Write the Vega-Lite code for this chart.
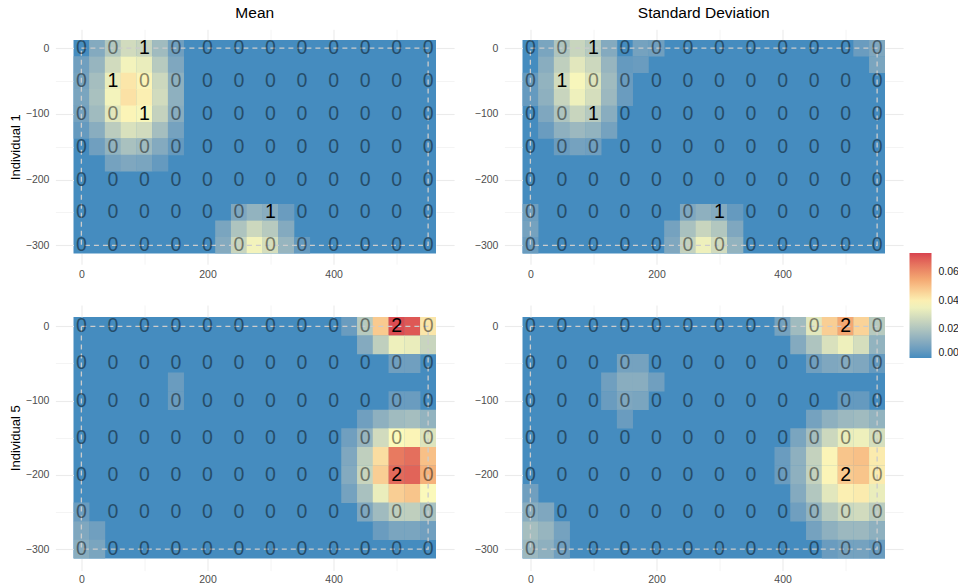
{
"$schema": "https://vega.github.io/schema/vega-lite/v6.json",
"background": "white",
"padding": {"left": 8.5, "top": 6, "right": 0, "bottom": 0},
"datasets": {
"frame": [{"x": 0, "x2": 550, "y": 0, "y2": -300}],
"counts": [
{"i":1,"x":0,"y":0,"n":0},{"i":1,"x":50,"y":0,"n":0},{"i":1,"x":100,"y":0,"n":1},{"i":1,"x":150,"y":0,"n":0},{"i":1,"x":200,"y":0,"n":0},{"i":1,"x":250,"y":0,"n":0},{"i":1,"x":300,"y":0,"n":0},{"i":1,"x":350,"y":0,"n":0},{"i":1,"x":400,"y":0,"n":0},{"i":1,"x":450,"y":0,"n":0},{"i":1,"x":500,"y":0,"n":0},{"i":1,"x":550,"y":0,"n":0},
{"i":1,"x":0,"y":-50,"n":0},{"i":1,"x":50,"y":-50,"n":1},{"i":1,"x":100,"y":-50,"n":0},{"i":1,"x":150,"y":-50,"n":0},{"i":1,"x":200,"y":-50,"n":0},{"i":1,"x":250,"y":-50,"n":0},{"i":1,"x":300,"y":-50,"n":0},{"i":1,"x":350,"y":-50,"n":0},{"i":1,"x":400,"y":-50,"n":0},{"i":1,"x":450,"y":-50,"n":0},{"i":1,"x":500,"y":-50,"n":0},{"i":1,"x":550,"y":-50,"n":0},
{"i":1,"x":0,"y":-100,"n":0},{"i":1,"x":50,"y":-100,"n":0},{"i":1,"x":100,"y":-100,"n":1},{"i":1,"x":150,"y":-100,"n":0},{"i":1,"x":200,"y":-100,"n":0},{"i":1,"x":250,"y":-100,"n":0},{"i":1,"x":300,"y":-100,"n":0},{"i":1,"x":350,"y":-100,"n":0},{"i":1,"x":400,"y":-100,"n":0},{"i":1,"x":450,"y":-100,"n":0},{"i":1,"x":500,"y":-100,"n":0},{"i":1,"x":550,"y":-100,"n":0},
{"i":1,"x":0,"y":-150,"n":0},{"i":1,"x":50,"y":-150,"n":0},{"i":1,"x":100,"y":-150,"n":0},{"i":1,"x":150,"y":-150,"n":0},{"i":1,"x":200,"y":-150,"n":0},{"i":1,"x":250,"y":-150,"n":0},{"i":1,"x":300,"y":-150,"n":0},{"i":1,"x":350,"y":-150,"n":0},{"i":1,"x":400,"y":-150,"n":0},{"i":1,"x":450,"y":-150,"n":0},{"i":1,"x":500,"y":-150,"n":0},{"i":1,"x":550,"y":-150,"n":0},
{"i":1,"x":0,"y":-200,"n":0},{"i":1,"x":50,"y":-200,"n":0},{"i":1,"x":100,"y":-200,"n":0},{"i":1,"x":150,"y":-200,"n":0},{"i":1,"x":200,"y":-200,"n":0},{"i":1,"x":250,"y":-200,"n":0},{"i":1,"x":300,"y":-200,"n":0},{"i":1,"x":350,"y":-200,"n":0},{"i":1,"x":400,"y":-200,"n":0},{"i":1,"x":450,"y":-200,"n":0},{"i":1,"x":500,"y":-200,"n":0},{"i":1,"x":550,"y":-200,"n":0},
{"i":1,"x":0,"y":-250,"n":0},{"i":1,"x":50,"y":-250,"n":0},{"i":1,"x":100,"y":-250,"n":0},{"i":1,"x":150,"y":-250,"n":0},{"i":1,"x":200,"y":-250,"n":0},{"i":1,"x":250,"y":-250,"n":0},{"i":1,"x":300,"y":-250,"n":1},{"i":1,"x":350,"y":-250,"n":0},{"i":1,"x":400,"y":-250,"n":0},{"i":1,"x":450,"y":-250,"n":0},{"i":1,"x":500,"y":-250,"n":0},{"i":1,"x":550,"y":-250,"n":0},
{"i":1,"x":0,"y":-300,"n":0},{"i":1,"x":50,"y":-300,"n":0},{"i":1,"x":100,"y":-300,"n":0},{"i":1,"x":150,"y":-300,"n":0},{"i":1,"x":200,"y":-300,"n":0},{"i":1,"x":250,"y":-300,"n":0},{"i":1,"x":300,"y":-300,"n":0},{"i":1,"x":350,"y":-300,"n":0},{"i":1,"x":400,"y":-300,"n":0},{"i":1,"x":450,"y":-300,"n":0},{"i":1,"x":500,"y":-300,"n":0},{"i":1,"x":550,"y":-300,"n":0},
{"i":5,"x":0,"y":0,"n":0},{"i":5,"x":50,"y":0,"n":0},{"i":5,"x":100,"y":0,"n":0},{"i":5,"x":150,"y":0,"n":0},{"i":5,"x":200,"y":0,"n":0},{"i":5,"x":250,"y":0,"n":0},{"i":5,"x":300,"y":0,"n":0},{"i":5,"x":350,"y":0,"n":0},{"i":5,"x":400,"y":0,"n":0},{"i":5,"x":450,"y":0,"n":0},{"i":5,"x":500,"y":0,"n":2},{"i":5,"x":550,"y":0,"n":0},
{"i":5,"x":0,"y":-50,"n":0},{"i":5,"x":50,"y":-50,"n":0},{"i":5,"x":100,"y":-50,"n":0},{"i":5,"x":150,"y":-50,"n":0},{"i":5,"x":200,"y":-50,"n":0},{"i":5,"x":250,"y":-50,"n":0},{"i":5,"x":300,"y":-50,"n":0},{"i":5,"x":350,"y":-50,"n":0},{"i":5,"x":400,"y":-50,"n":0},{"i":5,"x":450,"y":-50,"n":0},{"i":5,"x":500,"y":-50,"n":0},{"i":5,"x":550,"y":-50,"n":0},
{"i":5,"x":0,"y":-100,"n":0},{"i":5,"x":50,"y":-100,"n":0},{"i":5,"x":100,"y":-100,"n":0},{"i":5,"x":150,"y":-100,"n":0},{"i":5,"x":200,"y":-100,"n":0},{"i":5,"x":250,"y":-100,"n":0},{"i":5,"x":300,"y":-100,"n":0},{"i":5,"x":350,"y":-100,"n":0},{"i":5,"x":400,"y":-100,"n":0},{"i":5,"x":450,"y":-100,"n":0},{"i":5,"x":500,"y":-100,"n":0},{"i":5,"x":550,"y":-100,"n":0},
{"i":5,"x":0,"y":-150,"n":0},{"i":5,"x":50,"y":-150,"n":0},{"i":5,"x":100,"y":-150,"n":0},{"i":5,"x":150,"y":-150,"n":0},{"i":5,"x":200,"y":-150,"n":0},{"i":5,"x":250,"y":-150,"n":0},{"i":5,"x":300,"y":-150,"n":0},{"i":5,"x":350,"y":-150,"n":0},{"i":5,"x":400,"y":-150,"n":0},{"i":5,"x":450,"y":-150,"n":0},{"i":5,"x":500,"y":-150,"n":0},{"i":5,"x":550,"y":-150,"n":0},
{"i":5,"x":0,"y":-200,"n":0},{"i":5,"x":50,"y":-200,"n":0},{"i":5,"x":100,"y":-200,"n":0},{"i":5,"x":150,"y":-200,"n":0},{"i":5,"x":200,"y":-200,"n":0},{"i":5,"x":250,"y":-200,"n":0},{"i":5,"x":300,"y":-200,"n":0},{"i":5,"x":350,"y":-200,"n":0},{"i":5,"x":400,"y":-200,"n":0},{"i":5,"x":450,"y":-200,"n":0},{"i":5,"x":500,"y":-200,"n":2},{"i":5,"x":550,"y":-200,"n":0},
{"i":5,"x":0,"y":-250,"n":0},{"i":5,"x":50,"y":-250,"n":0},{"i":5,"x":100,"y":-250,"n":0},{"i":5,"x":150,"y":-250,"n":0},{"i":5,"x":200,"y":-250,"n":0},{"i":5,"x":250,"y":-250,"n":0},{"i":5,"x":300,"y":-250,"n":0},{"i":5,"x":350,"y":-250,"n":0},{"i":5,"x":400,"y":-250,"n":0},{"i":5,"x":450,"y":-250,"n":0},{"i":5,"x":500,"y":-250,"n":0},{"i":5,"x":550,"y":-250,"n":0},
{"i":5,"x":0,"y":-300,"n":0},{"i":5,"x":50,"y":-300,"n":0},{"i":5,"x":100,"y":-300,"n":0},{"i":5,"x":150,"y":-300,"n":0},{"i":5,"x":200,"y":-300,"n":0},{"i":5,"x":250,"y":-300,"n":0},{"i":5,"x":300,"y":-300,"n":0},{"i":5,"x":350,"y":-300,"n":0},{"i":5,"x":400,"y":-300,"n":0},{"i":5,"x":450,"y":-300,"n":0},{"i":5,"x":500,"y":-300,"n":0},{"i":5,"x":550,"y":-300,"n":0}
],
"cells": [
{"s":"Mean","i":1,"x":25,"y":0,"d":0.011},{"s":"Mean","i":1,"x":50,"y":0,"d":0.021},{"s":"Mean","i":1,"x":75,"y":0,"d":0.028},{"s":"Mean","i":1,"x":100,"y":0,"d":0.026},{"s":"Mean","i":1,"x":125,"y":0,"d":0.017},{"s":"Mean","i":1,"x":150,"y":0,"d":0.007},
{"s":"Mean","i":1,"x":0,"y":-25,"d":0.007},{"s":"Mean","i":1,"x":25,"y":-25,"d":0.015},{"s":"Mean","i":1,"x":50,"y":-25,"d":0.028},{"s":"Mean","i":1,"x":75,"y":-25,"d":0.036},{"s":"Mean","i":1,"x":100,"y":-25,"d":0.034},{"s":"Mean","i":1,"x":125,"y":-25,"d":0.022},{"s":"Mean","i":1,"x":150,"y":-25,"d":0.010},
{"s":"Mean","i":1,"x":0,"y":-50,"d":0.008},{"s":"Mean","i":1,"x":25,"y":-50,"d":0.018},{"s":"Mean","i":1,"x":50,"y":-50,"d":0.034},{"s":"Mean","i":1,"x":75,"y":-50,"d":0.042},{"s":"Mean","i":1,"x":100,"y":-50,"d":0.039},{"s":"Mean","i":1,"x":125,"y":-50,"d":0.027},{"s":"Mean","i":1,"x":150,"y":-50,"d":0.013},
{"s":"Mean","i":1,"x":0,"y":-75,"d":0.009},{"s":"Mean","i":1,"x":25,"y":-75,"d":0.019},{"s":"Mean","i":1,"x":50,"y":-75,"d":0.036},{"s":"Mean","i":1,"x":75,"y":-75,"d":0.043},{"s":"Mean","i":1,"x":100,"y":-75,"d":0.040},{"s":"Mean","i":1,"x":125,"y":-75,"d":0.028},{"s":"Mean","i":1,"x":150,"y":-75,"d":0.013},
{"s":"Mean","i":1,"x":0,"y":-100,"d":0.008},{"s":"Mean","i":1,"x":25,"y":-100,"d":0.017},{"s":"Mean","i":1,"x":50,"y":-100,"d":0.032},{"s":"Mean","i":1,"x":75,"y":-100,"d":0.039},{"s":"Mean","i":1,"x":100,"y":-100,"d":0.037},{"s":"Mean","i":1,"x":125,"y":-100,"d":0.025},{"s":"Mean","i":1,"x":150,"y":-100,"d":0.012},
{"s":"Mean","i":1,"x":0,"y":-125,"d":0.005},{"s":"Mean","i":1,"x":25,"y":-125,"d":0.012},{"s":"Mean","i":1,"x":50,"y":-125,"d":0.023},{"s":"Mean","i":1,"x":75,"y":-125,"d":0.030},{"s":"Mean","i":1,"x":100,"y":-125,"d":0.028},{"s":"Mean","i":1,"x":125,"y":-125,"d":0.018},{"s":"Mean","i":1,"x":150,"y":-125,"d":0.008},
{"s":"Mean","i":1,"x":25,"y":-150,"d":0.007},{"s":"Mean","i":1,"x":50,"y":-150,"d":0.014},{"s":"Mean","i":1,"x":75,"y":-150,"d":0.019},{"s":"Mean","i":1,"x":100,"y":-150,"d":0.017},{"s":"Mean","i":1,"x":125,"y":-150,"d":0.011},{"s":"Mean","i":1,"x":150,"y":-150,"d":0.005},
{"s":"Mean","i":1,"x":50,"y":-175,"d":0.008},{"s":"Mean","i":1,"x":75,"y":-175,"d":0.010},{"s":"Mean","i":1,"x":100,"y":-175,"d":0.009},{"s":"Mean","i":1,"x":125,"y":-175,"d":0.005},
{"s":"Mean","i":1,"x":250,"y":-250,"d":0.010},{"s":"Mean","i":1,"x":275,"y":-250,"d":0.014},{"s":"Mean","i":1,"x":300,"y":-250,"d":0.012},{"s":"Mean","i":1,"x":325,"y":-250,"d":0.006},
{"s":"Mean","i":1,"x":225,"y":-275,"d":0.009},{"s":"Mean","i":1,"x":250,"y":-275,"d":0.020},{"s":"Mean","i":1,"x":275,"y":-275,"d":0.027},{"s":"Mean","i":1,"x":300,"y":-275,"d":0.022},{"s":"Mean","i":1,"x":325,"y":-275,"d":0.011},
{"s":"Mean","i":1,"x":225,"y":-300,"d":0.011},{"s":"Mean","i":1,"x":250,"y":-300,"d":0.026},{"s":"Mean","i":1,"x":275,"y":-300,"d":0.036},{"s":"Mean","i":1,"x":300,"y":-300,"d":0.029},{"s":"Mean","i":1,"x":325,"y":-300,"d":0.015},{"s":"Mean","i":1,"x":350,"y":-300,"d":0.005},
{"s":"SD","i":1,"x":25,"y":0,"d":0.009},{"s":"SD","i":1,"x":50,"y":0,"d":0.020},{"s":"SD","i":1,"x":75,"y":0,"d":0.026},{"s":"SD","i":1,"x":100,"y":0,"d":0.022},{"s":"SD","i":1,"x":125,"y":0,"d":0.011},{"s":"SD","i":1,"x":175,"y":0,"d":0.008},{"s":"SD","i":1,"x":200,"y":0,"d":0.007},{"s":"SD","i":1,"x":525,"y":0,"d":0.006},{"s":"SD","i":1,"x":550,"y":0,"d":0.010},
{"s":"SD","i":1,"x":25,"y":-25,"d":0.012},{"s":"SD","i":1,"x":50,"y":-25,"d":0.024},{"s":"SD","i":1,"x":75,"y":-25,"d":0.032},{"s":"SD","i":1,"x":100,"y":-25,"d":0.027},{"s":"SD","i":1,"x":125,"y":-25,"d":0.015},{"s":"SD","i":1,"x":150,"y":-25,"d":0.005},{"s":"SD","i":1,"x":175,"y":-25,"d":0.006},{"s":"SD","i":1,"x":550,"y":-25,"d":0.009},
{"s":"SD","i":1,"x":0,"y":-50,"d":0.005},{"s":"SD","i":1,"x":25,"y":-50,"d":0.014},{"s":"SD","i":1,"x":50,"y":-50,"d":0.028},{"s":"SD","i":1,"x":75,"y":-50,"d":0.037},{"s":"SD","i":1,"x":100,"y":-50,"d":0.031},{"s":"SD","i":1,"x":125,"y":-50,"d":0.017},{"s":"SD","i":1,"x":150,"y":-50,"d":0.006},
{"s":"SD","i":1,"x":0,"y":-75,"d":0.005},{"s":"SD","i":1,"x":25,"y":-75,"d":0.013},{"s":"SD","i":1,"x":50,"y":-75,"d":0.026},{"s":"SD","i":1,"x":75,"y":-75,"d":0.035},{"s":"SD","i":1,"x":100,"y":-75,"d":0.029},{"s":"SD","i":1,"x":125,"y":-75,"d":0.016},{"s":"SD","i":1,"x":150,"y":-75,"d":0.006},
{"s":"SD","i":1,"x":25,"y":-100,"d":0.010},{"s":"SD","i":1,"x":50,"y":-100,"d":0.020},{"s":"SD","i":1,"x":75,"y":-100,"d":0.026},{"s":"SD","i":1,"x":100,"y":-100,"d":0.022},{"s":"SD","i":1,"x":125,"y":-100,"d":0.012},
{"s":"SD","i":1,"x":25,"y":-125,"d":0.006},{"s":"SD","i":1,"x":50,"y":-125,"d":0.013},{"s":"SD","i":1,"x":75,"y":-125,"d":0.016},{"s":"SD","i":1,"x":100,"y":-125,"d":0.014},{"s":"SD","i":1,"x":125,"y":-125,"d":0.008},
{"s":"SD","i":1,"x":50,"y":-150,"d":0.006},{"s":"SD","i":1,"x":75,"y":-150,"d":0.008},{"s":"SD","i":1,"x":100,"y":-150,"d":0.007},
{"s":"SD","i":1,"x":0,"y":-250,"d":0.007},{"s":"SD","i":1,"x":250,"y":-250,"d":0.010},{"s":"SD","i":1,"x":275,"y":-250,"d":0.013},{"s":"SD","i":1,"x":300,"y":-250,"d":0.011},{"s":"SD","i":1,"x":325,"y":-250,"d":0.005},
{"s":"SD","i":1,"x":0,"y":-275,"d":0.008},{"s":"SD","i":1,"x":225,"y":-275,"d":0.008},{"s":"SD","i":1,"x":250,"y":-275,"d":0.019},{"s":"SD","i":1,"x":275,"y":-275,"d":0.026},{"s":"SD","i":1,"x":300,"y":-275,"d":0.021},{"s":"SD","i":1,"x":325,"y":-275,"d":0.010},
{"s":"SD","i":1,"x":0,"y":-300,"d":0.006},{"s":"SD","i":1,"x":225,"y":-300,"d":0.010},{"s":"SD","i":1,"x":250,"y":-300,"d":0.025},{"s":"SD","i":1,"x":275,"y":-300,"d":0.035},{"s":"SD","i":1,"x":300,"y":-300,"d":0.028},{"s":"SD","i":1,"x":325,"y":-300,"d":0.014},
{"s":"Mean","i":5,"x":425,"y":0,"d":0.006},{"s":"Mean","i":5,"x":450,"y":0,"d":0.022},{"s":"Mean","i":5,"x":475,"y":0,"d":0.048},{"s":"Mean","i":5,"x":500,"y":0,"d":0.072},{"s":"Mean","i":5,"x":525,"y":0,"d":0.070},{"s":"Mean","i":5,"x":550,"y":0,"d":0.042},
{"s":"Mean","i":5,"x":450,"y":-25,"d":0.011},{"s":"Mean","i":5,"x":475,"y":-25,"d":0.024},{"s":"Mean","i":5,"x":500,"y":-25,"d":0.035},{"s":"Mean","i":5,"x":525,"y":-25,"d":0.034},{"s":"Mean","i":5,"x":550,"y":-25,"d":0.026},
{"s":"Mean","i":5,"x":500,"y":-50,"d":0.007},{"s":"Mean","i":5,"x":525,"y":-50,"d":0.007},
{"s":"Mean","i":5,"x":150,"y":-75,"d":0.006},
{"s":"Mean","i":5,"x":150,"y":-100,"d":0.006},{"s":"Mean","i":5,"x":500,"y":-100,"d":0.006},{"s":"Mean","i":5,"x":525,"y":-100,"d":0.006},
{"s":"Mean","i":5,"x":450,"y":-125,"d":0.007},{"s":"Mean","i":5,"x":475,"y":-125,"d":0.013},{"s":"Mean","i":5,"x":500,"y":-125,"d":0.017},{"s":"Mean","i":5,"x":525,"y":-125,"d":0.018},{"s":"Mean","i":5,"x":550,"y":-125,"d":0.014},
{"s":"Mean","i":5,"x":425,"y":-150,"d":0.007},{"s":"Mean","i":5,"x":450,"y":-150,"d":0.015},{"s":"Mean","i":5,"x":475,"y":-150,"d":0.028},{"s":"Mean","i":5,"x":500,"y":-150,"d":0.038},{"s":"Mean","i":5,"x":525,"y":-150,"d":0.039},{"s":"Mean","i":5,"x":550,"y":-150,"d":0.031},
{"s":"Mean","i":5,"x":425,"y":-175,"d":0.010},{"s":"Mean","i":5,"x":450,"y":-175,"d":0.024},{"s":"Mean","i":5,"x":475,"y":-175,"d":0.044},{"s":"Mean","i":5,"x":500,"y":-175,"d":0.064},{"s":"Mean","i":5,"x":525,"y":-175,"d":0.066},{"s":"Mean","i":5,"x":550,"y":-175,"d":0.050},
{"s":"Mean","i":5,"x":425,"y":-200,"d":0.011},{"s":"Mean","i":5,"x":450,"y":-200,"d":0.026},{"s":"Mean","i":5,"x":475,"y":-200,"d":0.047},{"s":"Mean","i":5,"x":500,"y":-200,"d":0.067},{"s":"Mean","i":5,"x":525,"y":-200,"d":0.068},{"s":"Mean","i":5,"x":550,"y":-200,"d":0.053},
{"s":"Mean","i":5,"x":425,"y":-225,"d":0.008},{"s":"Mean","i":5,"x":450,"y":-225,"d":0.019},{"s":"Mean","i":5,"x":475,"y":-225,"d":0.034},{"s":"Mean","i":5,"x":500,"y":-225,"d":0.047},{"s":"Mean","i":5,"x":525,"y":-225,"d":0.049},{"s":"Mean","i":5,"x":550,"y":-225,"d":0.038},
{"s":"Mean","i":5,"x":0,"y":-250,"d":0.006},{"s":"Mean","i":5,"x":450,"y":-250,"d":0.010},{"s":"Mean","i":5,"x":475,"y":-250,"d":0.017},{"s":"Mean","i":5,"x":500,"y":-250,"d":0.024},{"s":"Mean","i":5,"x":525,"y":-250,"d":0.024},{"s":"Mean","i":5,"x":550,"y":-250,"d":0.019},
{"s":"Mean","i":5,"x":0,"y":-275,"d":0.010},{"s":"Mean","i":5,"x":25,"y":-275,"d":0.007},{"s":"Mean","i":5,"x":475,"y":-275,"d":0.006},{"s":"Mean","i":5,"x":500,"y":-275,"d":0.009},{"s":"Mean","i":5,"x":525,"y":-275,"d":0.009},{"s":"Mean","i":5,"x":550,"y":-275,"d":0.007},
{"s":"Mean","i":5,"x":0,"y":-300,"d":0.012},{"s":"Mean","i":5,"x":25,"y":-300,"d":0.009},
{"s":"SD","i":5,"x":400,"y":0,"d":0.008},{"s":"SD","i":5,"x":425,"y":0,"d":0.017},{"s":"SD","i":5,"x":450,"y":0,"d":0.032},{"s":"SD","i":5,"x":475,"y":0,"d":0.047},{"s":"SD","i":5,"x":500,"y":0,"d":0.055},{"s":"SD","i":5,"x":525,"y":0,"d":0.046},{"s":"SD","i":5,"x":550,"y":0,"d":0.022},
{"s":"SD","i":5,"x":425,"y":-25,"d":0.011},{"s":"SD","i":5,"x":450,"y":-25,"d":0.020},{"s":"SD","i":5,"x":475,"y":-25,"d":0.030},{"s":"SD","i":5,"x":500,"y":-25,"d":0.035},{"s":"SD","i":5,"x":525,"y":-25,"d":0.029},{"s":"SD","i":5,"x":550,"y":-25,"d":0.014},
{"s":"SD","i":5,"x":150,"y":-50,"d":0.008},{"s":"SD","i":5,"x":175,"y":-50,"d":0.008},{"s":"SD","i":5,"x":450,"y":-50,"d":0.007},{"s":"SD","i":5,"x":475,"y":-50,"d":0.010},{"s":"SD","i":5,"x":500,"y":-50,"d":0.011},{"s":"SD","i":5,"x":525,"y":-50,"d":0.010},{"s":"SD","i":5,"x":550,"y":-50,"d":0.005},
{"s":"SD","i":5,"x":125,"y":-75,"d":0.007},{"s":"SD","i":5,"x":150,"y":-75,"d":0.012},{"s":"SD","i":5,"x":175,"y":-75,"d":0.012},{"s":"SD","i":5,"x":200,"y":-75,"d":0.007},
{"s":"SD","i":5,"x":125,"y":-100,"d":0.006},{"s":"SD","i":5,"x":150,"y":-100,"d":0.010},{"s":"SD","i":5,"x":175,"y":-100,"d":0.009},{"s":"SD","i":5,"x":500,"y":-100,"d":0.005},{"s":"SD","i":5,"x":525,"y":-100,"d":0.005},
{"s":"SD","i":5,"x":150,"y":-125,"d":0.006},{"s":"SD","i":5,"x":450,"y":-125,"d":0.008},{"s":"SD","i":5,"x":475,"y":-125,"d":0.013},{"s":"SD","i":5,"x":500,"y":-125,"d":0.016},{"s":"SD","i":5,"x":525,"y":-125,"d":0.017},{"s":"SD","i":5,"x":550,"y":-125,"d":0.014},
{"s":"SD","i":5,"x":425,"y":-150,"d":0.009},{"s":"SD","i":5,"x":450,"y":-150,"d":0.018},{"s":"SD","i":5,"x":475,"y":-150,"d":0.027},{"s":"SD","i":5,"x":500,"y":-150,"d":0.034},{"s":"SD","i":5,"x":525,"y":-150,"d":0.035},{"s":"SD","i":5,"x":550,"y":-150,"d":0.029},
{"s":"SD","i":5,"x":400,"y":-175,"d":0.006},{"s":"SD","i":5,"x":425,"y":-175,"d":0.013},{"s":"SD","i":5,"x":450,"y":-175,"d":0.025},{"s":"SD","i":5,"x":475,"y":-175,"d":0.039},{"s":"SD","i":5,"x":500,"y":-175,"d":0.049},{"s":"SD","i":5,"x":525,"y":-175,"d":0.050},{"s":"SD","i":5,"x":550,"y":-175,"d":0.041},
{"s":"SD","i":5,"x":400,"y":-200,"d":0.006},{"s":"SD","i":5,"x":425,"y":-200,"d":0.013},{"s":"SD","i":5,"x":450,"y":-200,"d":0.025},{"s":"SD","i":5,"x":475,"y":-200,"d":0.039},{"s":"SD","i":5,"x":500,"y":-200,"d":0.048},{"s":"SD","i":5,"x":525,"y":-200,"d":0.049},{"s":"SD","i":5,"x":550,"y":-200,"d":0.041},
{"s":"SD","i":5,"x":0,"y":-225,"d":0.007},{"s":"SD","i":5,"x":425,"y":-225,"d":0.011},{"s":"SD","i":5,"x":450,"y":-225,"d":0.021},{"s":"SD","i":5,"x":475,"y":-225,"d":0.032},{"s":"SD","i":5,"x":500,"y":-225,"d":0.040},{"s":"SD","i":5,"x":525,"y":-225,"d":0.041},{"s":"SD","i":5,"x":550,"y":-225,"d":0.034},
{"s":"SD","i":5,"x":0,"y":-250,"d":0.012},{"s":"SD","i":5,"x":25,"y":-250,"d":0.010},{"s":"SD","i":5,"x":425,"y":-250,"d":0.007},{"s":"SD","i":5,"x":450,"y":-250,"d":0.014},{"s":"SD","i":5,"x":475,"y":-250,"d":0.022},{"s":"SD","i":5,"x":500,"y":-250,"d":0.027},{"s":"SD","i":5,"x":525,"y":-250,"d":0.028},{"s":"SD","i":5,"x":550,"y":-250,"d":0.023},
{"s":"SD","i":5,"x":0,"y":-275,"d":0.018},{"s":"SD","i":5,"x":25,"y":-275,"d":0.015},{"s":"SD","i":5,"x":50,"y":-275,"d":0.008},{"s":"SD","i":5,"x":450,"y":-275,"d":0.008},{"s":"SD","i":5,"x":475,"y":-275,"d":0.013},{"s":"SD","i":5,"x":500,"y":-275,"d":0.016},{"s":"SD","i":5,"x":525,"y":-275,"d":0.016},{"s":"SD","i":5,"x":550,"y":-275,"d":0.013},
{"s":"SD","i":5,"x":0,"y":-300,"d":0.016},{"s":"SD","i":5,"x":25,"y":-300,"d":0.013},{"s":"SD","i":5,"x":50,"y":-300,"d":0.007},{"s":"SD","i":5,"x":475,"y":-300,"d":0.006},{"s":"SD","i":5,"x":500,"y":-300,"d":0.008},{"s":"SD","i":5,"x":525,"y":-300,"d":0.008},{"s":"SD","i":5,"x":550,"y":-300,"d":0.006}
]
},
"columns": 2,
"spacing": {"row": 63, "column": 86},
"bounds": "flush",
"resolve": {"scale": {"color": "shared"}, "legend": {"color": "shared"}},
"concat": [
{"width": 362.5, "height": 213.5, "title": {"text": "Mean"},
 "layer": [
  {"data": {"name": "cells"}, "transform": [{"filter": "datum.s === 'Mean' && datum.i === 1"}],
   "mark": {"type": "rect", "width": 16.1, "height": 16.8, "clip": true},
   "encoding": {
    "x": {"field": "x", "type": "quantitative", "scale": {"domain": [-12.5, 562.5], "nice": false, "zero": false},
      "axis": {"orient": "bottom", "values": [0,100,200,300,400,500], "format": "d", "labelExpr": "datum.value % 200 === 0 ? datum.label : ''", "tickSize": 10.7, "tickWidth": {"condition": {"test": "datum.value % 200 === 0", "value": 1.1}, "value": 0.55}, "labelPadding": 5.5, "title": null}},
    "y": {"field": "y", "type": "quantitative", "scale": {"domain": [-312.5, 12.5], "nice": false, "zero": false},
      "axis": {"orient": "left", "values": [0,-50,-100,-150,-200,-250,-300], "format": "d", "labelExpr": "datum.value % 100 === 0 ? datum.label : ''", "tickSize": 18.1, "tickWidth": {"condition": {"test": "datum.value % 100 === 0", "value": 1.1}, "value": 0.55}, "labelPadding": 6.5, "title": "Individual 1", "titlePadding": 3}},
    "color": {"field": "d", "type": "quantitative", "scale": {"domain": [0, 0.038, 0.055, 0.0733], "range": ["#458cbf", "#fbf9bb", "#f4a872", "#d8434f"], "interpolate": "lab"},
      "legend": {"title": null, "orient": "none", "legendX": 836, "legendY": 213, "direction": "vertical", "gradientLength": 105, "gradientThickness": 22, "values": [0, 0.02, 0.04, 0.06], "format": ".2f", "labelFontSize": 10.5, "labelColor": "#1a1a1a", "labelOffset": 7, "gradientStrokeWidth": 0}}
   }},
  {"data": {"name": "frame"}, "mark": {"type": "rect", "filled": false, "stroke": "#cccccc", "strokeDash": [5, 4], "strokeWidth": 1.3},
   "encoding": {"x": {"field": "x", "type": "quantitative", "axis": null}, "x2": {"field": "x2"}, "y": {"field": "y", "type": "quantitative", "axis": null}, "y2": {"field": "y2"}}},
  {"data": {"name": "counts"}, "transform": [{"filter": "datum.i === 1"}],
   "mark": {"type": "text", "fontSize": 19.5, "baseline": "middle", "align": "center", "color": "#000000"},
   "encoding": {
    "x": {"field": "x", "type": "quantitative", "axis": {"orient": "top", "values": [0,100,200,300,400,500], "labels": false, "tickSize": 10.7, "tickWidth": {"condition": {"test": "datum.value % 200 === 0", "value": 1.1}, "value": 0.55}, "title": null}},
    "y": {"field": "y", "type": "quantitative", "axis": {"orient": "right", "values": [0,-50,-100,-150,-200,-250,-300], "labels": false, "tickSize": 18.1, "tickWidth": {"condition": {"test": "datum.value % 100 === 0", "value": 1.1}, "value": 0.55}, "title": null}},
    "text": {"field": "n", "type": "nominal"},
    "opacity": {"condition": {"test": "datum.n > 0", "value": 1}, "value": 0.45}
   }}
 ],
 "resolve": {"axis": {"x": "independent", "y": "independent"}}
},
{"width": 362.5, "height": 213.5, "title": {"text": "Standard Deviation"},
 "layer": [
  {"data": {"name": "cells"}, "transform": [{"filter": "datum.s === 'SD' && datum.i === 1"}],
   "mark": {"type": "rect", "width": 16.1, "height": 16.8, "clip": true},
   "encoding": {
    "x": {"field": "x", "type": "quantitative", "scale": {"domain": [-12.5, 562.5], "nice": false, "zero": false},
      "axis": {"orient": "bottom", "values": [0,100,200,300,400,500], "format": "d", "labelExpr": "datum.value % 200 === 0 ? datum.label : ''", "tickSize": 10.7, "tickWidth": {"condition": {"test": "datum.value % 200 === 0", "value": 1.1}, "value": 0.55}, "labelPadding": 5.5, "title": null}},
    "y": {"field": "y", "type": "quantitative", "scale": {"domain": [-312.5, 12.5], "nice": false, "zero": false},
      "axis": {"orient": "left", "values": [0,-50,-100,-150,-200,-250,-300], "format": "d", "labelExpr": "datum.value % 100 === 0 ? datum.label : ''", "tickSize": 18.1, "tickWidth": {"condition": {"test": "datum.value % 100 === 0", "value": 1.1}, "value": 0.55}, "labelPadding": 6.5, "title": null}},
    "color": {"field": "d", "type": "quantitative", "scale": {"domain": [0, 0.038, 0.055, 0.0733], "range": ["#458cbf", "#fbf9bb", "#f4a872", "#d8434f"], "interpolate": "lab"},
      "legend": {"title": null, "orient": "none", "legendX": 836, "legendY": 213, "direction": "vertical", "gradientLength": 105, "gradientThickness": 22, "values": [0, 0.02, 0.04, 0.06], "format": ".2f", "labelFontSize": 10.5, "labelColor": "#1a1a1a", "labelOffset": 7, "gradientStrokeWidth": 0}}
   }},
  {"data": {"name": "frame"}, "mark": {"type": "rect", "filled": false, "stroke": "#cccccc", "strokeDash": [5, 4], "strokeWidth": 1.3},
   "encoding": {"x": {"field": "x", "type": "quantitative", "axis": null}, "x2": {"field": "x2"}, "y": {"field": "y", "type": "quantitative", "axis": null}, "y2": {"field": "y2"}}},
  {"data": {"name": "counts"}, "transform": [{"filter": "datum.i === 1"}],
   "mark": {"type": "text", "fontSize": 19.5, "baseline": "middle", "align": "center", "color": "#000000"},
   "encoding": {
    "x": {"field": "x", "type": "quantitative", "axis": {"orient": "top", "values": [0,100,200,300,400,500], "labels": false, "tickSize": 10.7, "tickWidth": {"condition": {"test": "datum.value % 200 === 0", "value": 1.1}, "value": 0.55}, "title": null}},
    "y": {"field": "y", "type": "quantitative", "axis": {"orient": "right", "values": [0,-50,-100,-150,-200,-250,-300], "labels": false, "tickSize": 18.1, "tickWidth": {"condition": {"test": "datum.value % 100 === 0", "value": 1.1}, "value": 0.55}, "title": null}},
    "text": {"field": "n", "type": "nominal"},
    "opacity": {"condition": {"test": "datum.n > 0", "value": 1}, "value": 0.45}
   }}
 ],
 "resolve": {"axis": {"x": "independent", "y": "independent"}}
},
{"width": 362.5, "height": 241.5,
 "layer": [
  {"data": {"name": "cells"}, "transform": [{"filter": "datum.s === 'Mean' && datum.i === 5"}],
   "mark": {"type": "rect", "width": 16.1, "height": 18.9, "clip": true},
   "encoding": {
    "x": {"field": "x", "type": "quantitative", "scale": {"domain": [-12.5, 562.5], "nice": false, "zero": false},
      "axis": {"orient": "bottom", "values": [0,100,200,300,400,500], "format": "d", "labelExpr": "datum.value % 200 === 0 ? datum.label : ''", "tickSize": 12.1, "tickWidth": {"condition": {"test": "datum.value % 200 === 0", "value": 1.1}, "value": 0.55}, "labelPadding": 3.5, "title": null}},
    "y": {"field": "y", "type": "quantitative", "scale": {"domain": [-312.5, 12.5], "nice": false, "zero": false},
      "axis": {"orient": "left", "values": [0,-50,-100,-150,-200,-250,-300], "format": "d", "labelExpr": "datum.value % 100 === 0 ? datum.label : ''", "tickSize": 18.1, "tickWidth": {"condition": {"test": "datum.value % 100 === 0", "value": 1.1}, "value": 0.55}, "labelPadding": 6.5, "title": "Individual 5", "titlePadding": 3}},
    "color": {"field": "d", "type": "quantitative", "scale": {"domain": [0, 0.038, 0.055, 0.0733], "range": ["#458cbf", "#fbf9bb", "#f4a872", "#d8434f"], "interpolate": "lab"},
      "legend": {"title": null, "orient": "none", "legendX": 836, "legendY": 213, "direction": "vertical", "gradientLength": 105, "gradientThickness": 22, "values": [0, 0.02, 0.04, 0.06], "format": ".2f", "labelFontSize": 10.5, "labelColor": "#1a1a1a", "labelOffset": 7, "gradientStrokeWidth": 0}}
   }},
  {"data": {"name": "frame"}, "mark": {"type": "rect", "filled": false, "stroke": "#cccccc", "strokeDash": [5, 4], "strokeWidth": 1.3},
   "encoding": {"x": {"field": "x", "type": "quantitative", "axis": null}, "x2": {"field": "x2"}, "y": {"field": "y", "type": "quantitative", "axis": null}, "y2": {"field": "y2"}}},
  {"data": {"name": "counts"}, "transform": [{"filter": "datum.i === 5"}],
   "mark": {"type": "text", "fontSize": 19.5, "baseline": "middle", "align": "center", "color": "#000000"},
   "encoding": {
    "x": {"field": "x", "type": "quantitative", "axis": {"orient": "top", "values": [0,100,200,300,400,500], "labels": false, "tickSize": 12.1, "tickWidth": {"condition": {"test": "datum.value % 200 === 0", "value": 1.1}, "value": 0.55}, "title": null}},
    "y": {"field": "y", "type": "quantitative", "axis": {"orient": "right", "values": [0,-50,-100,-150,-200,-250,-300], "labels": false, "tickSize": 18.1, "tickWidth": {"condition": {"test": "datum.value % 100 === 0", "value": 1.1}, "value": 0.55}, "title": null}},
    "text": {"field": "n", "type": "nominal"},
    "opacity": {"condition": {"test": "datum.n > 0", "value": 1}, "value": 0.45}
   }}
 ],
 "resolve": {"axis": {"x": "independent", "y": "independent"}}
},
{"width": 362.5, "height": 241.5,
 "layer": [
  {"data": {"name": "cells"}, "transform": [{"filter": "datum.s === 'SD' && datum.i === 5"}],
   "mark": {"type": "rect", "width": 16.1, "height": 18.9, "clip": true},
   "encoding": {
    "x": {"field": "x", "type": "quantitative", "scale": {"domain": [-12.5, 562.5], "nice": false, "zero": false},
      "axis": {"orient": "bottom", "values": [0,100,200,300,400,500], "format": "d", "labelExpr": "datum.value % 200 === 0 ? datum.label : ''", "tickSize": 12.1, "tickWidth": {"condition": {"test": "datum.value % 200 === 0", "value": 1.1}, "value": 0.55}, "labelPadding": 3.5, "title": null}},
    "y": {"field": "y", "type": "quantitative", "scale": {"domain": [-312.5, 12.5], "nice": false, "zero": false},
      "axis": {"orient": "left", "values": [0,-50,-100,-150,-200,-250,-300], "format": "d", "labelExpr": "datum.value % 100 === 0 ? datum.label : ''", "tickSize": 18.1, "tickWidth": {"condition": {"test": "datum.value % 100 === 0", "value": 1.1}, "value": 0.55}, "labelPadding": 6.5, "title": null}},
    "color": {"field": "d", "type": "quantitative", "scale": {"domain": [0, 0.038, 0.055, 0.0733], "range": ["#458cbf", "#fbf9bb", "#f4a872", "#d8434f"], "interpolate": "lab"},
      "legend": {"title": null, "orient": "none", "legendX": 836, "legendY": 213, "direction": "vertical", "gradientLength": 105, "gradientThickness": 22, "values": [0, 0.02, 0.04, 0.06], "format": ".2f", "labelFontSize": 10.5, "labelColor": "#1a1a1a", "labelOffset": 7, "gradientStrokeWidth": 0}}
   }},
  {"data": {"name": "frame"}, "mark": {"type": "rect", "filled": false, "stroke": "#cccccc", "strokeDash": [5, 4], "strokeWidth": 1.3},
   "encoding": {"x": {"field": "x", "type": "quantitative", "axis": null}, "x2": {"field": "x2"}, "y": {"field": "y", "type": "quantitative", "axis": null}, "y2": {"field": "y2"}}},
  {"data": {"name": "counts"}, "transform": [{"filter": "datum.i === 5"}],
   "mark": {"type": "text", "fontSize": 19.5, "baseline": "middle", "align": "center", "color": "#000000"},
   "encoding": {
    "x": {"field": "x", "type": "quantitative", "axis": {"orient": "top", "values": [0,100,200,300,400,500], "labels": false, "tickSize": 12.1, "tickWidth": {"condition": {"test": "datum.value % 200 === 0", "value": 1.1}, "value": 0.55}, "title": null}},
    "y": {"field": "y", "type": "quantitative", "axis": {"orient": "right", "values": [0,-50,-100,-150,-200,-250,-300], "labels": false, "tickSize": 18.1, "tickWidth": {"condition": {"test": "datum.value % 100 === 0", "value": 1.1}, "value": 0.55}, "title": null}},
    "text": {"field": "n", "type": "nominal"},
    "opacity": {"condition": {"test": "datum.n > 0", "value": 1}, "value": 0.45}
   }}
 ],
 "resolve": {"axis": {"x": "independent", "y": "independent"}}
}
],
"config": {
 "font": "Liberation Sans",
 "view": {"fill": "#458cbf", "stroke": null},
 "axis": {"domain": false, "grid": false, "ticks": true, "tickColor": "#ebebeb", "labelFontSize": 10.5, "labelColor": "#4d4d4d", "titleFontSize": 13, "titleFontWeight": "normal", "titleColor": "#000000"},
 "title": {"fontSize": 15.5, "fontWeight": "normal", "color": "#000000", "anchor": "middle", "frame": "group", "offset": 7}
}
}
